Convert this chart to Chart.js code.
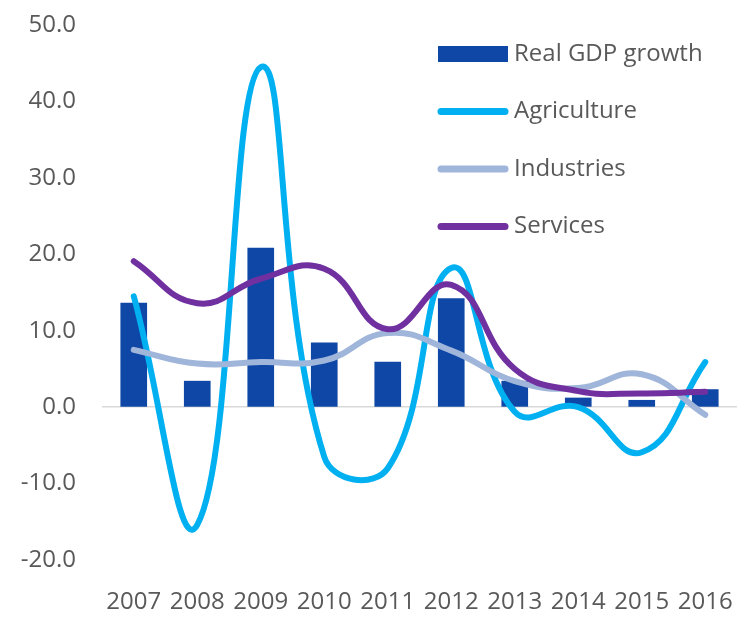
<!DOCTYPE html>
<html>
<head>
<meta charset="utf-8">
<script src="https://cdn.jsdelivr.net/npm/chart.js@4/dist/chart.umd.min.js"></script>
<style>
  html, body { margin: 0; padding: 0; background: #fff; }
  canvas { display: block; }
</style>
</head>
<body>
<canvas id="chart" width="747" height="626"></canvas>
<script>
// values
const years = ['2007', '2008', '2009', '2010', '2011', '2012', '2013', '2014', '2015', '2016'];
const realGdpGrowth = [13.6, 3.4, 20.8, 8.4, 5.9, 14.2, 3.4, 1.2, 0.9, 2.3];
const agriculture = [14.5, -15.4, 44.5, -6.5, -8.0, 18.2, -0.6, 0.0, -5.9, 5.9];
const industries = [7.5, 5.7, 5.9, 6.1, 9.7, 7.4, 3.4, 2.5, 4.3, -1.0];
const services = [19.1, 13.6, 16.8, 18.1, 10.2, 16.0, 5.0, 2.1, 1.8, 2.0];
const yTicks = [-20, -10, 0, 10, 20, 30, 40, 50];

const textColor = '#595959';
const fontFamily = '"Open Sans", sans-serif';

// legend drawn inside the plot, top right, one item per row
const insideLegend = {
    id: 'insideLegend',
    afterDraw(chart) {
        const ctx = chart.ctx;
        const x0 = 438, x1 = 508, top = 54, step = 57.5;
        ctx.save();
        ctx.font = '24px ' + fontFamily;
        ctx.textBaseline = 'middle';
        ctx.textAlign = 'left';
        chart.data.datasets.forEach((ds, i) => {
            const y = top + i * step;
            if (ds.type === 'bar') {
                ctx.fillStyle = ds.backgroundColor;
                ctx.fillRect(x0, y - 8, x1 - x0, 16);
            } else {
                ctx.strokeStyle = ds.borderColor;
                ctx.lineWidth = 7;
                ctx.lineCap = 'round';
                ctx.beginPath();
                ctx.moveTo(x0 + 3, y);
                ctx.lineTo(x1 - 3, y);
                ctx.stroke();
            }
            ctx.fillStyle = textColor;
            ctx.fillText(ds.label, x1 + 6, y);
        });
        ctx.restore();
    }
};

const lineStyle = {
    type: 'line',
    borderWidth: 6,
    pointRadius: 0,
    tension: 0.45,
    borderCapStyle: 'round',
    borderJoinStyle: 'round',
    fill: false,
};

new Chart(document.getElementById('chart'), {
    data: {
        labels: years,
        datasets: [
            {
                type: 'bar',
                label: 'Real GDP growth',
                data: realGdpGrowth,
                backgroundColor: '#0F47A6',
                barThickness: 26,
                order: 4,
            },
            { ...lineStyle, label: 'Agriculture', data: agriculture, borderColor: '#00B0F0', order: 3 },
            { ...lineStyle, label: 'Industries', data: industries, borderColor: '#A0B5DA', order: 2 },
            { ...lineStyle, label: 'Services', data: services, borderColor: '#7030A0', order: 1 },
        ],
    },
    options: {
        responsive: false,
        animation: false,
        layout: { padding: { top: 25, right: 10, left: 0, bottom: 0 } },
        plugins: {
            legend: { display: false },
            tooltip: { enabled: false },
        },
        scales: {
            x: {
                grid: { display: false, drawTicks: false },
                border: { display: false },
                ticks: {
                    color: textColor,
                    font: { family: fontFamily, size: 24 },
                    padding: 28,
                    maxRotation: 0,
                    autoSkip: false,
                },
                afterFit(scale) {
                    scale.height = 66;
                    scale.paddingLeft = 0;
                    scale.paddingRight = 0;
                },
            },
            y: {
                min: yTicks[0],
                max: yTicks[yTicks.length - 1],
                afterBuildTicks(scale) { scale.ticks = yTicks.map(v => ({ value: v })); },
                grid: {
                    drawTicks: false,
                    lineWidth: 1.5,
                    color: c => (c.tick && c.tick.value === 0 ? '#D9D9D9' : 'rgba(0,0,0,0)'),
                },
                border: { display: false },
                ticks: {
                    color: textColor,
                    font: { family: fontFamily, size: 24 },
                    padding: 26,
                    callback: v => Number(v).toFixed(1),
                },
                afterFit(scale) {
                    scale.width = 102;
                    scale.paddingTop = 0;
                    scale.paddingBottom = 0;
                },
            },
        },
    },
    plugins: [insideLegend],
});
</script>
</body>
</html>
